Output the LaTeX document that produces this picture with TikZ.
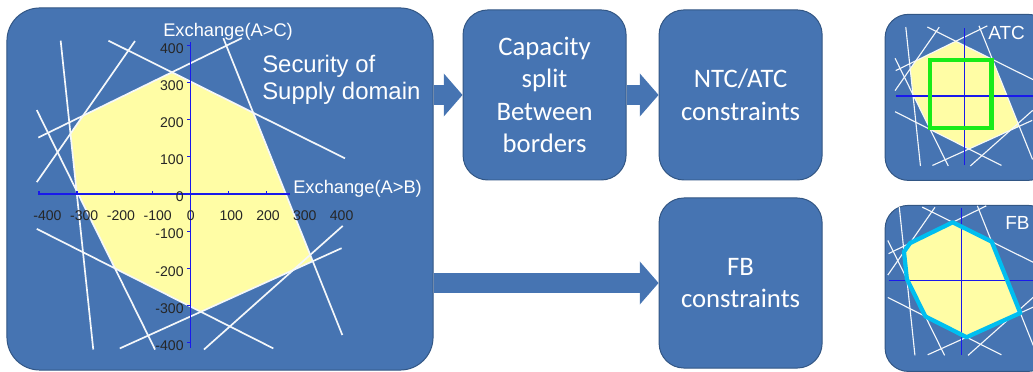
\documentclass[tikz,border=0pt]{standalone}
\usepackage{fontspec}
\setmainfont{Carlito}
\newfontfamily\arial{Liberation Sans}
\usetikzlibrary{positioning,arrows.meta}

\definecolor{boxblue}{RGB}{70,116,178}
\definecolor{boxedge}{RGB}{50,86,132}
\definecolor{domyellow}{RGB}{255,253,165}
\definecolor{axisblue}{RGB}{25,25,235}
\definecolor{atcgreen}{RGB}{25,235,25}
\definecolor{fbcyan}{RGB}{0,190,240}

\tikzset{
	block/.style={
		rectangle,
		rounded corners=0.62cm,
		fill=boxblue,
		draw=boxedge,
		line width=0.7pt,
		text=white,
		align=center,
		inner sep=0pt,
		font=\fontsize{19}{23}\selectfont,
		minimum width=4.075cm,
		minimum height=4.25cm
	},
	bigblock/.style={block, rounded corners=0.82cm, minimum width=10.65cm, minimum height=9.05cm},
	miniblock/.style={block, rounded corners=0.58cm, minimum width=4.15cm, minimum height=4.15cm},
	flow/.style={draw=boxblue, line width=0.48cm, -{Triangle[length=0.47cm,width=1.05cm]}},
	cut/.style={draw=white!94!boxblue, line width=1.2pt},
	axis/.style={draw=axisblue, line width=1pt},
	ticklabel/.style={font=\arial\fontsize{10}{12}\selectfont, text=black!85, inner sep=0pt},
	axislabel/.style={font=\arial\fontsize{13}{15}\selectfont, text=white, inner sep=0pt},
	domtext/.style={font=\arial\fontsize{17}{19}\selectfont, text=white, align=left, inner sep=0pt}
}

% security domain: nine cut lines, the region they enclose and the axes
% #1 = right end of the A>B axis
\newcommand{\domain}[1]{%
	\coordinate (s1) at (-343,413);  \coordinate (e1) at (-257,-419);
	\coordinate (s2) at (-406,226);  \coordinate (e2) at (-94,-419);
	\coordinate (s3) at (-406,32);   \coordinate (e3) at (-147,412);
	\coordinate (s4) at (-402,152);  \coordinate (e4) at (135,420);
	\coordinate (s5) at (-217,413);  \coordinate (e5) at (407,96);
	\coordinate (s6) at (86,420);    \coordinate (e6) at (400,-380);
	\coordinate (s7) at (-406,-94);  \coordinate (e7) at (218,-416);
	\coordinate (s8) at (-187,-416); \coordinate (e8) at (398,-146);
	\coordinate (s9) at (35,-419);   \coordinate (e9) at (401,-86);
	\coordinate (p1) at (intersection of s4--e4 and s5--e5);
	\coordinate (p2) at (intersection of s5--e5 and s6--e6);
	\coordinate (p3) at (intersection of s6--e6 and s8--e8);
	\coordinate (p4) at (intersection of s8--e8 and s7--e7);
	\coordinate (p5) at (intersection of s7--e7 and s2--e2);
	\coordinate (p6) at (intersection of s2--e2 and s1--e1);
	\coordinate (p7) at (intersection of s1--e1 and s3--e3);
	\coordinate (p8) at (intersection of s3--e3 and s4--e4);
	\fill[domyellow] (p1) -- (p2) -- (p3) -- (p4) -- (p5) -- (p6) -- (p7) -- (p8) -- cycle;
	\foreach \n in {1,...,9}
		\draw[cut] (s\n) -- (e\n);
	\draw[axis] (-402,0) -- (#1,0);
	\draw[axis] (0,-415) -- (0,410);
}

\begin{document}
\begin{tikzpicture}[x=0.025cm, y=-0.025cm]
	\useasboundingbox (0,0) rectangle (1033,372);
	\clip (0,0) rectangle (1033,372);

	\node[bigblock] (dom) at (220,189) {};
	\node[block, below right=0.05cm and 0.725cm of dom.north east] (split) {Capacity\\split\\Between\\borders};
	\node[block, right=0.8cm of split] (ntc) {NTC/ATC\\constraints};
	\node[block, below=0.425cm of ntc] (fb) {FB\\constraints};
	\node[miniblock, right=1.55cm of ntc, yshift=-0.06cm] (atc) {};
	\node[miniblock, below=0.6cm of atc] (fbmini) {};

	\draw[flow] (dom.east |- split.west) -- (split.west);
	\draw[flow] (split.east) -- (ntc.west);
	\draw[flow] (dom.east |- fb.west) -- (fb.west);

	% large domain with scales
	\begin{scope}[shift={(190.7,194)}, x=0.009475cm, y=0.009275cm]
		\domain{262}
		\foreach \t in {-400,-300,-200,-100,100,200}
			\draw[axis, line width=0.8pt] (\t,0) -- (\t,8);
		\foreach \t in {-400,-300,-200,-100,100,200,300,400}
			\draw[axis, line width=0.8pt] (0,\t) -- (-10,\t);
		\foreach \t in {-400,-300,-200,-100,100,200,300,400}
			\node[ticklabel] at ({0.97*\t+10},-59) {\t};
		\node[ticklabel] at (0,-59) {0};
		\foreach \t in {-400,-300,-200,-100,0,100,200,300,400}
			\node[ticklabel, anchor=east] at (-18,\t-8) {\t};
	\end{scope}
	\node[axislabel, anchor=west] (ylab) at (163,32) {Exchange(A>C)};
	\node[axislabel, anchor=west] (xlab) at (293,189) {Exchange(A>B)};
	\node[domtext, anchor=west] (title) at (262,80) {Security of\\Supply domain};

	% ATC box: domain with the box of allowed exchanges
	\begin{scope}[shift={(964.3,96)}, x=0.009475cm, y=0.009275cm, scale=0.45,
		cut/.append style={line width=0.8pt}, axis/.append style={line width=0.8pt}]
		\domain{420}
		\draw[atcgreen, line width=3pt] (-200,-190) rectangle (160,215);
	\end{scope}
	\node[axislabel, font=\arial\fontsize{13.5}{15}\selectfont, anchor=west] (atclab) at (988,33) {ATC};

	% FB box: the whole domain
	\begin{scope}[shift={(961.7,280.7)}, x=0.009475cm, y=0.009275cm, scale=0.48,
		cut/.append style={line width=0.8pt}, axis/.append style={line width=0.8pt}]
		\domain{420}
		\draw[fbcyan, line width=3pt, line join=round] (p1) -- (p2) -- (p3) -- (p4) -- (p5) -- (p6) -- (p7) -- (p8) -- cycle;
	\end{scope}
	\node[axislabel, font=\arial\fontsize{13.5}{15}\selectfont, anchor=west] (fblab) at (1005,223) {FB};
\end{tikzpicture}
\end{document}
